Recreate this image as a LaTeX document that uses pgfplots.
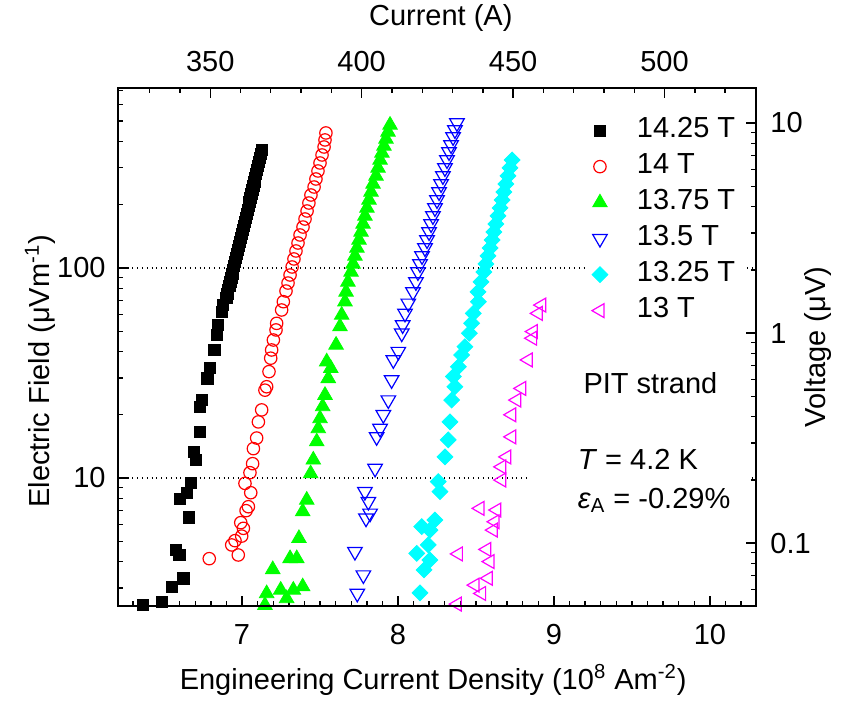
\documentclass[border=0pt]{standalone}
\usepackage{fontspec}
\setmainfont{Liberation Sans}
\usepackage{pgfplots}
\pgfplotsset{compat=1.18}
\definecolor{mygreen}{RGB}{0,255,0}
\definecolor{mycyan}{RGB}{0,255,255}
\definecolor{mymag}{RGB}{255,0,255}
\pgfplotsset{
  common/.style={
    width=319pt, height=259pt, scale only axis,
    at={(0pt,0pt)}, anchor=south west,
    tick align=inside,
    major tick length=5pt, minor tick length=2.5pt,
    axis line style={line width=1pt},
    every tick/.style={black, line width=0.7pt},
  }
}
\begin{document}
\begin{tikzpicture}[font=\fontsize{14.5}{17.5}\selectfont]
\useasboundingbox (-59pt,-48pt) rectangle (365pt,303pt);
\begin{axis}[common, ymode=log,
  /pgf/number format/assume math mode=true,
  xmin=6.205, xmax=10.295, ymin=2.458, ymax=719.5,
  xtick={7,8,9,10}, minor xtick={6.3,6.4,...,10.25},
  ytick={10,100}, yticklabels={10,100},
  minor ytick={3,4,5,6,7,8,9,20,30,40,50,60,70,80,90,200,300,400,500,600,700},
  xtick pos=left, ytick pos=left,
  ymajorgrids, major grid style={dotted, black, line width=0.6pt},
  xticklabel style={anchor=center, yshift=-14.5pt},
  yticklabel style={anchor=east, inner sep=0pt, xshift=-6pt},
  xlabel={Engineering Current Density (10\textsuperscript{8} Am\textsuperscript{-2})},
  xlabel style={at={(axis description cs:0.494,-0.143)}, anchor=center},
  ylabel={Electric Field (μVm\textsuperscript{-1})},
  ylabel style={at={(axis description cs:-0.122,0.453)}, anchor=center},
  legend cell align=left,
  legend style={at={(axis description cs:0.736,0.959)}, anchor=north west,
    draw=none, fill=white, inner sep=2pt, column sep=12.5pt, row sep=1pt,
    nodes={inner sep=2pt, text height=10pt, text depth=3pt}},
  legend image code/.code={\draw[#1] plot coordinates {(8pt,0pt)};},
]
\addplot[only marks, mark=square*, mark size=2.8pt, black] coordinates {
(6.367,2.48) (6.485,2.58) (6.549,3.04) (6.624,3.33) (6.577,4.54) (6.598,4.30) (6.662,6.50) (6.603,7.94) (6.645,8.46) (6.671,9.50) (6.705,12.2) (6.692,13.3) (6.731,16.6) (6.731,21.9) (6.742,23.5) (6.778,29.8) (6.795,33.3) (6.823,40.7) (6.838,48.0) (6.848,53.5) (6.870,61.9) (6.880,66.6)
(6.900,72.0) (6.906,75.2) (6.912,78.6) (6.919,82.1) (6.925,85.8) (6.932,89.6) (6.938,93.6) (6.944,97.8) (6.950,102.2) (6.956,106.8) (6.962,111.6) (6.968,116.6) (6.975,122) (6.981,127.2) (6.987,133) (6.993,138.9) (6.999,145) (7.005,151.6) (7.011,158) (7.017,165.5) (7.023,173) (7.029,180.7) (7.036,189) (7.042,197.3) (7.048,206) (7.054,215.4) (7.060,225) (7.067,235) (7.073,246) (7.079,257) (7.085,268) (7.091,280.6) (7.097,293) (7.104,306) (7.110,320) (7.116,334) (7.122,349) (7.128,364.8)
};
\addlegendentry{14.25 T}
\addplot[only marks, mark=o, mark size=3.1pt, red, mark options={line width=0.6pt}] coordinates {
(7.538,439.5) (7.532,407) (7.526,376.9) (7.513,345.2) (7.500,316.2) (7.487,289.7) (7.474,265.3) (7.462,243.0) (7.442,222.6) (7.429,203.9) (7.417,186.8) (7.404,171.1) (7.391,156.7) (7.372,143.6) (7.359,131.5) (7.346,120.5) (7.333,110.4) (7.321,101.1) (7.308,92.6) (7.295,84.8) (7.282,77.7)
(7.265,69.1) (7.254,63.1) (7.222,54.5) (7.218,50.7) (7.201,45.4) (7.190,40.7) (7.184,37.2) (7.173,32.1) (7.158,27.2) (7.147,26.2) (7.126,21.1) (7.105,18.5) (7.094,15.5) (7.073,13.8) (7.068,11.7) (7.051,10.6) (7.019,9.43) (7.056,8.51) (7.041,7.30) (7.026,6.99) (6.992,6.13) (7.009,5.76) (6.955,5.03) (6.998,5.29) (6.934,4.80) (6.976,4.30) (6.790,4.13)
};
\addlegendentry{14 T}
\addplot[only marks, mark=triangle*, mark size=4.2pt, mygreen] coordinates {
(7.949,479.6) (7.936,444.4) (7.923,411.5) (7.910,381) (7.897,352.9) (7.885,326.8) (7.872,299.4) (7.859,274.3) (7.840,251.2) (7.827,230.1) (7.814,210.8) (7.801,193.1) (7.788,176.9) (7.776,162.0) (7.763,148.4) (7.750,135.9) (7.737,124.5) (7.724,114.1) (7.712,104.5) (7.699,95.7) (7.679,85.8) (7.667,76.9)
(7.660,69.1) (7.639,59.7) (7.628,52.6) (7.603,43.0) (7.543,35.8) (7.569,33.3) (7.553,29.8) (7.532,24.8) (7.517,21.9) (7.500,19.2) (7.489,17.2) (7.479,14.9) (7.457,12.2) (7.440,10.5) (7.415,7.86) (7.389,6.92) (7.365,5.16) (7.308,4.14) (7.351,4.14) (7.197,3.67) (7.158,2.82) (7.248,2.93) (7.329,2.93) (7.389,3.04) (7.286,2.67) (7.147,2.48)
};
\addlegendentry{13.75 T}
\addplot[only marks, mark=triangle, mark size=4.2pt, blue, mark options={rotate=180, line width=0.6pt}] coordinates {
(8.378,490.3) (8.365,454.1) (8.353,420.6) (8.340,385.2) (8.327,356.8) (8.314,326.8) (8.301,299.4) (8.288,274.3) (8.276,251.2) (8.263,230.1) (8.250,210.8) (8.237,193.1) (8.224,176.9) (8.212,162.0) (8.199,148.4) (8.186,135.9) (8.173,124.5) (8.154,114.1) (8.141,104.5) (8.128,95.7) (8.115,85.8) (8.096,76.9)
(8.066,67.9) (8.045,60.8) (8.030,53.5) (8.024,48.9) (8.002,40.0) (7.970,36.5) (7.959,29.3) (7.938,23.5) (7.906,20.0) (7.885,17.2) (7.863,15.7) (7.853,11.1) (7.788,8.61) (7.810,7.72) (7.821,6.79) (7.795,6.43) (7.724,4.46) (7.778,3.45) (7.739,2.82)
};
\addlegendentry{13.5 T}
\addplot[only marks, mark=square*, mark size=2.8pt, mycyan, mark options={rotate=45}] coordinates {
(8.731,326.8) (8.718,299.4) (8.705,274.3) (8.692,251.2) (8.679,230.1) (8.667,210.8) (8.654,193.1) (8.641,176.9) (8.628,162.0) (8.615,148.4) (8.603,135.9) (8.590,124.5) (8.577,114.1) (8.564,104.5) (8.551,95.7) (8.532,85.8) (8.513,76.9)
(8.515,69.1) (8.483,60.8) (8.472,54.5) (8.457,48.9) (8.429,42.2) (8.408,38.5) (8.387,33.9) (8.355,30.4) (8.365,27.2) (8.344,23.5) (8.333,18.5) (8.322,15.2) (8.301,12.6) (8.258,9.61) (8.269,8.61) (8.237,6.31) (8.152,5.87) (8.205,5.65) (8.194,4.80) (8.120,4.38) (8.205,4.07) (8.167,3.65) (8.141,2.84)
};
\addlegendentry{13.25 T}
\addplot[only marks, mark=triangle, mark size=4pt, mymag, mark options={rotate=90, line width=0.6pt}] coordinates {
(8.921,66.6) (8.899,60.8) (8.867,49.8) (8.863,46.3) (8.835,36.5) (8.793,26.7) (8.761,23.5) (8.729,20.0) (8.729,15.7) (8.697,12.6) (8.665,11.3) (8.665,9.78) (8.526,7.17) (8.633,7.04) (8.622,6.19) (8.611,5.65) (8.387,4.35) (8.569,4.57) (8.590,4.00) (8.494,3.09) (8.579,3.33) (8.536,2.82) (8.380,2.51)
};
\addlegendentry{13 T}
\fill[white] (axis description cs:0.646,0.17) rectangle (axis description cs:0.99,0.32);
\node[anchor=base west, inner sep=0pt] at (axis description cs:0.729,0.411) {PIT strand};
\node[anchor=base west, inner sep=0pt] at (axis description cs:0.720,0.264) {\textit{T} = 4.2 K};
\node[anchor=base west, inner sep=0pt] at (axis description cs:0.720,0.189) {\textit{ε}\textsubscript{A} = -0.29\%};
\end{axis}
\begin{axis}[common, ymode=log,
  /pgf/number format/assume math mode=true,
  xmin=319.56, xmax=530.19, ymin=0.05015, ymax=14.68,
  xtick={350,400,450,500}, minor xtick={330,340,...,520},
  ytick={0.1,1,10}, yticklabels={0.1,1,10},
  minor ytick={0.06,0.07,0.08,0.09,0.2,0.3,0.4,0.5,0.6,0.7,0.8,0.9,2,3,4,5,6,7,8,9},
  xtick pos=right, ytick pos=right, xticklabel pos=right, yticklabel pos=right,
  xticklabel style={anchor=center, yshift=13pt},
  yticklabel style={anchor=west, inner sep=0pt, xshift=7pt},
  xlabel={Current (A)},
  xlabel style={at={(axis description cs:0.506,1.135)}, anchor=center},
  ylabel={Voltage (μV)},
  ylabel style={at={(axis description cs:1.097,0.5)}, anchor=center},
]
\addplot[draw=none] coordinates {(400,1)};
\end{axis}
\end{tikzpicture}
\end{document}
